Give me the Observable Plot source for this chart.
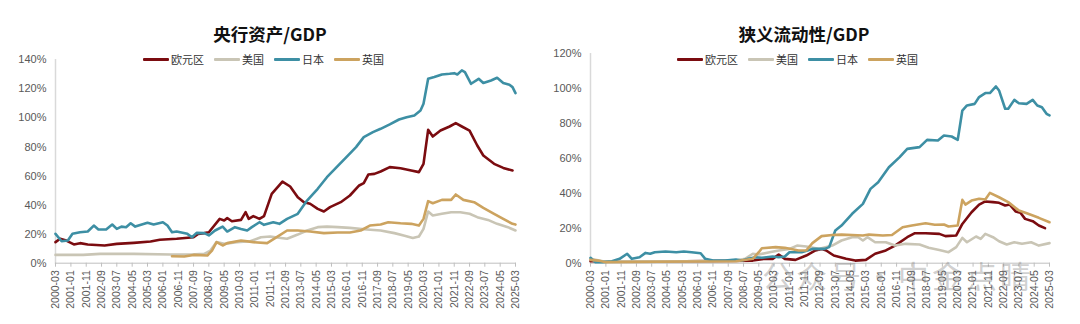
<!DOCTYPE html>
<html>
<head>
<meta charset="utf-8">
<script src="https://cdn.jsdelivr.net/npm/d3@7"></script>
<script src="https://cdn.jsdelivr.net/npm/@observablehq/plot@0.6"></script>
<style>
  html, body { margin: 0; padding: 0; background: #fff; }
  body { width: 1080px; height: 324px; position: relative; overflow: hidden;
         font-family: "Liberation Sans", Arial, "Noto Sans CJK SC", sans-serif; }
  .panel { position: absolute; top: 0; width: 540px; height: 324px; }
  .title { position: absolute; top: 21px; left: 0; width: 100%; text-align: center;
           font-size: 17.5px; font-weight: bold; color: #111;
           font-family: "Noto Sans CJK SC", "Liberation Sans", sans-serif; }
  .plot { position: absolute; top: 40px; left: 0; }
  .legend { position: absolute; top: 51px; display: flex; align-items: center;
            font-size: 11px; color: #333; font-family: "Noto Sans CJK SC", sans-serif; }
  .legend .item { display: flex; align-items: center; margin-right: 10px; }
  .legend .sw { width: 26px; height: 3px; margin-right: 2px; border-radius: 1px; }
  .wm { position: absolute; left: 762px; top: 252px; font-size: 31px; color: rgba(110,110,110,0.32);
        font-family: "Noto Sans CJK SC", sans-serif; letter-spacing: 3px; white-space: nowrap; }
</style>
</head>
<body>
<div class="panel" id="left"><div class="title">央行资产/GDP</div></div>
<div class="panel" id="right" style="left:540px"><div class="title" style="left:-6px">狭义流动性/GDP</div></div>
<div class="wm">公众号·中金点睛</div>
<script>
// ---------- data ----------
const seriesNames = ["欧元区", "美国", "日本", "英国"];
const seriesColors = ["#7B0C10", "#C9C5B5", "#3D8FA4", "#CCA35F"];

const xTickLabels = ["2000-03","2001-01","2001-11","2002-09","2003-07","2004-05","2005-03","2006-01",
  "2006-11","2007-09","2008-07","2009-05","2010-03","2011-01","2011-11","2012-09","2013-07","2014-05",
  "2015-03","2016-01","2016-11","2017-09","2018-07","2019-05","2020-03","2021-01","2021-11","2022-09",
  "2023-07","2024-05","2025-03"];
const yTicksAssets = [0, 20, 40, 60, 80, 100, 120, 140];
const yTicksLiquidity = [0, 20, 40, 60, 80, 100, 120];

// 央行资产/GDP (%)
const assetsEuro = [["2000-03",14.5],["2000-06",16.8],["2000-10",15.6],["2001-03",12.9],["2001-07",13.8],
  ["2001-12",12.9],["2002-11",12.2],["2003-07",13.3],["2004-06",14.0],["2005-05",14.9],["2005-11",16.1],
  ["2006-10",16.8],["2007-09",17.9],["2007-12",20.2],["2008-04",20.7],["2008-07",21.3],["2009-02",30.5],
  ["2009-05",29.4],["2009-07",31.0],["2009-10",28.9],["2010-04",29.8],["2010-07",35.1],["2010-09",30.5],
  ["2010-12",32.4],["2011-04",30.5],["2011-07",32.4],["2011-12",47.7],["2012-07",56.2],["2012-12",52.8],
  ["2013-05",45.4],["2013-09",42.0],["2014-01",40.9],["2014-06",37.4],["2014-10",35.6],["2015-02",38.6],
  ["2015-09",42.0],["2016-03",46.6],["2016-09",53.5],["2016-12",55.1],["2017-03",61.0],["2017-07",61.5],
  ["2017-11",63.1],["2018-05",66.1],["2018-12",65.4],["2019-07",63.8],["2019-12",62.7],["2020-03",68.4],
  ["2020-06",91.8],["2020-09",87.2],["2021-02",91.3],["2021-08",94.1],["2021-12",96.4],["2022-04",94.1],
  ["2022-09",91.3],["2023-02",81.0],["2023-06",74.1],["2024-01",68.4],["2024-07",65.6],["2025-01",63.8]];
const assetsUS = [["2000-03",5.7],["2001-09",5.7],["2002-08",6.4],["2004-06",6.4],["2006-06",6.0],
  ["2007-07",6.0],["2008-04",6.4],["2008-08",8.7],["2008-12",14.5],["2009-05",13.3],["2010-01",14.5],
  ["2010-10",15.1],["2011-05",17.9],["2011-11",18.4],["2012-06",17.4],["2012-10",16.8],["2013-05",19.7],
  ["2013-11",22.5],["2014-06",24.8],["2014-12",25.2],["2015-07",24.8],["2016-03",24.3],["2017-02",23.2],
  ["2017-11",22.5],["2018-08",20.7],["2019-02",19.1],["2019-08",17.4],["2019-12",18.4],["2020-03",23.6],
  ["2020-06",35.6],["2020-09",32.8],["2021-03",34.0],["2021-09",35.1],["2022-03",35.1],["2022-09",34.0],
  ["2023-02",31.7],["2023-09",29.8],["2024-03",27.1],["2024-10",24.8],["2025-03",22.5]];
const assetsJapan = [["2000-03",20.2],["2000-07",15.1],["2000-11",15.6],["2001-02",20.2],["2001-07",21.3],
  ["2001-12",21.8],["2002-04",25.9],["2002-07",23.2],["2002-12",23.2],["2003-04",26.6],["2003-07",23.6],
  ["2003-10",25.2],["2004-01",24.8],["2004-04",27.5],["2004-07",25.2],["2005-03",27.8],["2005-07",26.6],
  ["2006-01",28.2],["2006-04",25.9],["2006-07",21.3],["2006-10",21.8],["2007-05",20.2],["2007-08",17.9],
  ["2007-11",20.9],["2008-04",20.7],["2008-07",19.1],["2008-11",22.5],["2009-04",25.2],["2009-07",21.8],
  ["2009-12",24.8],["2010-04",23.6],["2010-08",22.5],["2010-11",24.8],["2011-04",28.2],["2011-07",26.4],
  ["2012-01",28.2],["2012-05",27.1],["2012-10",30.5],["2013-05",34.0],["2013-11",43.1],["2014-06",51.2],
  ["2014-12",59.2],["2015-07",66.8],["2016-01",73.4],["2016-07",79.9],["2016-12",86.8],["2017-06",90.2],
  ["2017-11",92.5],["2018-05",95.5],["2018-11",98.9],["2019-04",100.5],["2019-09",101.7],["2020-01",105.1],
  ["2020-03",109.7],["2020-06",126.9],["2020-10",128.1],["2021-03",129.9],["2021-08",130.4],["2021-11",130.8],
  ["2022-01",129.9],["2022-04",132.7],["2022-06",131.5],["2022-10",123.5],["2023-03",126.9],["2023-06",124.0],
  ["2023-11",125.8],["2024-03",127.6],["2024-07",124.0],["2024-11",122.8],["2025-01",121.2],["2025-03",117.1]];
const assetsUK = [["2006-07",4.8],["2007-03",4.6],["2007-09",5.7],["2008-06",5.3],["2008-09",8.7],
  ["2008-12",14.5],["2009-04",12.2],["2009-07",13.8],["2010-04",15.6],["2010-12",14.5],["2011-09",13.8],
  ["2012-04",18.4],["2012-10",22.5],["2013-05",22.5],["2014-01",21.8],["2014-10",20.7],["2015-07",21.1],
  ["2016-03",21.1],["2016-10",22.5],["2017-04",25.9],["2017-11",26.6],["2018-04",28.2],["2018-12",27.5],
  ["2019-07",27.1],["2019-12",25.9],["2020-03",30.5],["2020-06",42.7],["2020-09",41.3],["2021-03",43.6],
  ["2021-09",43.6],["2021-12",47.3],["2022-05",43.6],["2022-12",42.0],["2023-06",38.1],["2024-01",34.0],
  ["2024-07",30.5],["2025-01",27.1],["2025-03",26.6]];

// 狭义流动性/GDP (%)
const liqEuro = [["2000-03",1.1],["2005-05",1.1],["2009-01",1.5],["2009-09",2.5],["2010-02",2.5],
  ["2010-06",5.0],["2010-10",2.5],["2011-05",1.9],["2011-12",4.4],["2012-06",7.3],["2012-10",8.2],
  ["2013-01",7.3],["2013-06",4.4],["2014-02",2.5],["2014-08",1.5],["2015-03",1.9],["2015-09",5.4],
  ["2016-04",7.3],["2016-10",10.1],["2017-06",14.9],["2017-11",17.2],["2018-06",17.2],["2019-03",16.8],
  ["2019-07",15.5],["2020-02",15.9],["2020-06",22.5],["2020-12",29.2],["2021-05",33.6],["2021-09",35.4],
  ["2022-02",35.0],["2022-06",34.6],["2022-10",33.1],["2023-01",33.6],["2023-05",29.6],["2023-08",28.9],
  ["2023-11",25.4],["2024-04",24.1],["2024-08",21.6],["2024-12",20.1]];
const liqUS = [["2000-03",2.5],["2000-11",1.1],["2005-05",1.1],["2008-02",1.5],["2008-08",2.5],
  ["2009-01",5.4],["2009-05",5.0],["2009-12",6.3],["2010-06",7.3],["2011-01",8.2],["2011-06",10.1],
  ["2011-12",9.6],["2012-08",8.2],["2013-05",10.1],["2013-11",13.0],["2014-06",14.9],["2014-10",14.9],
  ["2015-01",13.0],["2015-04",14.9],["2015-09",12.0],["2016-04",12.0],["2016-10",10.1],["2017-05",11.1],
  ["2018-02",10.7],["2018-08",8.8],["2019-03",7.6],["2019-09",6.3],["2020-02",9.2],["2020-06",14.5],
  ["2020-09",12.0],["2021-03",15.3],["2021-06",13.9],["2021-09",16.8],["2022-02",14.9],["2022-06",12.6],
  ["2022-11",10.7],["2023-04",12.0],["2023-09",11.1],["2024-03",12.0],["2024-08",10.1],["2025-03",11.5]];
const liqJapan = [["2000-03",3.1],["2000-06",0.6],["2000-11",0.6],["2001-05",1.1],["2001-10",2.5],
  ["2002-03",5.4],["2002-06",2.5],["2002-11",3.4],["2003-03",5.9],["2003-06",5.4],["2003-09",6.3],
  ["2004-04",6.7],["2004-11",6.3],["2005-04",6.7],["2005-09",6.3],["2006-03",5.7],["2006-06",2.5],
  ["2006-11",1.5],["2007-07",1.5],["2008-02",2.1],["2008-06",1.5],["2008-10",2.5],["2009-03",3.4],
  ["2009-07",3.1],["2010-02",3.8],["2010-06",3.4],["2010-10",3.8],["2011-01",6.3],["2011-09",6.3],
  ["2012-04",8.2],["2012-12",8.2],["2013-03",9.2],["2013-07",18.7],["2013-11",21.6],["2014-06",28.3],
  ["2015-01",34.0],["2015-06",42.6],["2015-11",46.4],["2016-06",55.0],["2017-01",60.8],["2017-06",65.5],
  ["2018-02",66.5],["2018-07",70.7],["2019-02",70.3],["2019-06",73.2],["2019-11",72.6],["2020-03",70.7],
  ["2020-06",87.5],["2020-09",90.4],["2021-02",91.3],["2021-05",95.2],["2021-09",97.5],["2021-12",97.5],
  ["2022-04",101.3],["2022-06",99.0],["2022-10",88.5],["2022-12",88.5],["2023-04",93.6],["2023-07",91.7],
  ["2023-12",91.3],["2024-04",93.6],["2024-07",90.4],["2024-10",89.4],["2025-01",85.6],["2025-03",84.7]];
const liqUK = [["2000-03",1.9],["2000-08",1.5],["2001-01",0.6],["2005-05",1.0],["2008-02",1.1],
  ["2009-01",2.5],["2009-05",6.3],["2009-07",8.6],["2010-04",9.2],["2010-10",8.8],["2011-07",7.3],
  ["2011-12",7.3],["2012-04",11.5],["2012-10",15.5],["2013-05",16.2],["2013-11",16.4],["2014-06",16.2],
  ["2015-01",15.9],["2015-05",16.4],["2016-02",15.9],["2016-08",16.2],["2017-03",20.6],["2017-09",21.6],
  ["2018-06",22.9],["2018-12",22.0],["2019-06",22.2],["2019-09",21.0],["2020-03",21.6],["2020-06",36.3],
  ["2020-08",33.6],["2020-12",35.9],["2021-05",36.9],["2021-09",36.5],["2021-12",40.3],["2022-06",37.8],
  ["2022-12",35.0],["2023-07",30.2],["2024-01",28.3],["2024-08",26.0],["2025-03",23.5]];

// ---------- build ----------
const parse = d3.utcParse("%Y-%m");
const fmt = d3.utcFormat("%Y-%m");
const rows = (pairs, name) => pairs.map(([d, v]) => ({date: parse(d), value: v, series: name}));
const xTicks = xTickLabels.map(parse);

function legend(parent, left) {
  const lg = document.createElement("div");
  lg.className = "legend";
  lg.style.left = left + "px";
  seriesNames.forEach((n, i) => {
    const it = document.createElement("div");
    it.className = "item";
    it.innerHTML = `<span class="sw" style="background:${seriesColors[i]}"></span><span>${n}</span>`;
    lg.appendChild(it);
  });
  parent.appendChild(lg);
}

function panel(id, data, yTicks, yMax, mLeft, mRight, mTop, legendLeft) {
  const el = document.getElementById(id);
  const chart = Plot.plot({
    width: 540,
    height: 284,
    marginLeft: mLeft,
    marginRight: mRight,
    marginTop: mTop,
    marginBottom: 61.3,
    style: {fontFamily: '"Liberation Sans", Arial, sans-serif', background: "transparent"},
    x: {type: "utc", domain: [xTicks[0], xTicks[xTicks.length - 1]]},
    y: {domain: [0, yMax]},
    color: {domain: seriesNames, range: seriesColors},
    marks: [
      Plot.frame({anchor: "left", stroke: "#d9d9d9", strokeWidth: 1.5}),
      Plot.frame({anchor: "bottom", stroke: "#bfbfbf", strokeWidth: 1}),
      Plot.axisY({ticks: yTicks, tickFormat: d => d + "%", tickSize: 0, tickPadding: 9,
                  fontSize: 11, fill: "#595959", label: null}),
      Plot.axisX({ticks: xTicks, tickFormat: fmt, tickRotate: -90, tickSize: 4, tickPadding: 3,
                  fontSize: 10.5, fill: "#595959", stroke: "#bfbfbf", label: null}),
      ...data.map(d => Plot.lineY(d, {x: "date", y: "value", stroke: "series",
                  strokeWidth: 2.6, strokeLinejoin: "round", curve: "linear"}))
    ]
  });
  chart.classList.add("plot");
  el.appendChild(chart);
  legend(el, legendLeft);
}

panel("left", [rows(assetsEuro, "欧元区"), rows(assetsUS, "美国"), rows(assetsJapan, "日本"), rows(assetsUK, "英国")],
      yTicksAssets, 140, 55, 25, 19.3, 143);
panel("right", [rows(liqEuro, "欧元区"), rows(liqUS, "美国"), rows(liqJapan, "日本"), rows(liqUK, "英国")],
      yTicksLiquidity, 120, 50, 31, 13.3, 137);
</script>
</body>
</html>
